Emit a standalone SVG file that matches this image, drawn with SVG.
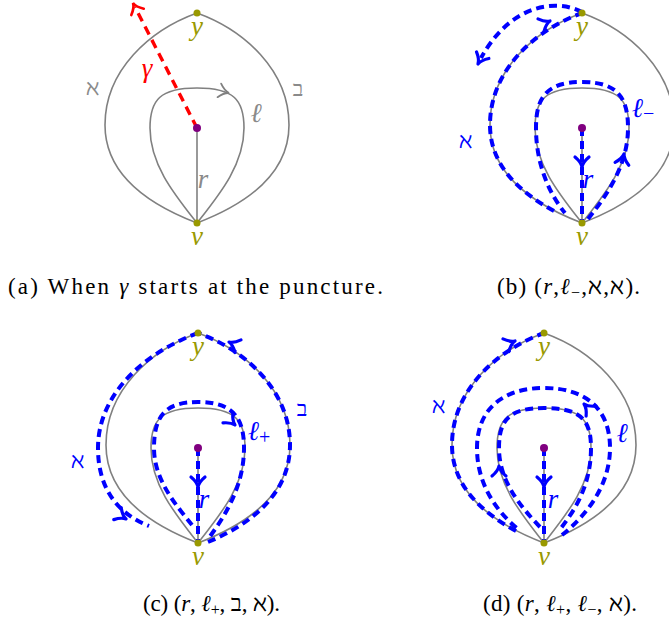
<svg xmlns="http://www.w3.org/2000/svg" xmlns:xlink="http://www.w3.org/1999/xlink" width="669" height="628" viewBox="0 0 669 628">
<style>
.g{fill:none;stroke:#808080;stroke-width:1.6}
.b{fill:none;stroke:#0000ff;stroke-width:4;stroke-dasharray:8 5}
.red{fill:none;stroke:#ff0000;stroke-width:3.4;stroke-dasharray:9 6}
.ba{fill:none;stroke:#0000ff;stroke-width:3.2;stroke-linecap:round;stroke-linejoin:round}
.m{font-family:'Liberation Serif',serif;font-style:italic;font-size:27px;text-anchor:middle}
.h{font-family:'DejaVu Serif',serif;font-size:22px;text-anchor:middle}
.ol{fill:#999900}
.gr{fill:#8a8a8a}
.bl{fill:#0000ff}
.cap{font-family:'Liberation Serif',serif;font-size:23px;fill:#000}
.hx{font-family:'DejaVu Serif',serif}
</style>
<defs>
<path id="outer" d="M197,223 C150,205 105,175 105,125 C105,70 150,30 197,13 C244,30 289,70 289,125 C289,175 244,205 197,223"/>
<path id="inner" d="M197,223 C175,195 150,165 150,128 C150,100 160,88 197,88 C234,88 244,100 244,128 C244,165 219,195 197,223"/>
<path id="arr" d="M-10,-7 Q-5,-1 0,0 Q-5,1 -10,7"/>
<g id="base">
<use xlink:href="#outer" class="g"/>
<use xlink:href="#inner" class="g"/>
<line x1="197" y1="128" x2="197" y2="223" class="g"/>
</g>
<g id="dots">
<circle cx="197" cy="13" r="3.5" class="ol"/>
<circle cx="197" cy="223" r="3.5" class="ol"/>
<circle cx="197" cy="128" r="4" fill="#800080"/>
<text x="197" y="35" class="m ol">y</text>
<text x="197" y="245" class="m ol">v</text>
</g>
</defs>

<!-- Panel (a) -->
<g id="panel-a">
<g id="a-connectors">
<use xlink:href="#base"/>
<use xlink:href="#arr" transform="translate(229,93) rotate(15)" fill="none" stroke="#808080" stroke-width="1.8" stroke-linecap="round"/>
<path d="M197,128 L135,7" class="red"/>
<use xlink:href="#arr" transform="translate(133,3) rotate(-117)" fill="none" stroke="#ff0000" stroke-width="2.6" stroke-linecap="round"/>
</g>
<g id="a-nodes"><use xlink:href="#dots"/></g>
<g id="a-labels">
<text x="203" y="188" class="m gr">r</text>
<text x="256" y="122" class="m gr">ℓ</text>
<text x="92" y="95" class="h gr">ℵ</text>
<text x="298" y="96" class="h gr" font-size="20">ב</text>
<text x="147" y="77" class="m" fill="#ff0000">γ</text>
</g>
</g>

<!-- Panel (b) -->
<g id="panel-b" transform="translate(385,0)">
<g id="b-connectors">
<use xlink:href="#base"/>
<line x1="197" y1="128" x2="197" y2="220" class="b"/>
<path d="M203,219 C222,195 243,165 243,128 C243,98 233,82 197,82 C161,82 151,98 151,128 C151,165 165,195 180,213" class="b"/>
<path d="M169,211 C134,192 105,165 105,125 C105,70 150,30 197,13" class="b"/>
<path d="M197,12 C170,-2 125,5 96,58" class="b"/>
<use xlink:href="#arr" class="ba" transform="translate(197,167) rotate(90)"/>
<use xlink:href="#arr" class="ba" transform="translate(239,154) rotate(-78)"/>
<use xlink:href="#arr" class="ba" transform="translate(165,21) rotate(-25)"/>
<use xlink:href="#arr" class="ba" transform="translate(93,64) rotate(118)"/>
</g>
<g id="b-nodes"><use xlink:href="#dots"/></g>
<g id="b-labels">
<text x="203" y="188" class="m bl">r</text>
<text x="258" y="117" class="m bl">ℓ<tspan dy="3" font-size="20" font-style="normal">−</tspan></text>
<text x="80" y="148" class="h bl">ℵ</text>
</g>
</g>

<!-- Panel (c) -->
<g id="panel-c" transform="translate(1,320)">
<g id="c-connectors">
<use xlink:href="#base"/>
<line x1="197" y1="128" x2="197" y2="220" class="b"/>
<path d="M191,205 C175,185 153,160 153,128 C153,95 165,82 197,82 C232,82 243,98 243,128 C243,165 225,195 207,219" class="b"/>
<path d="M207,222 C248,205 289,175 289,125 C289,70 244,30 197,13" class="b"/>
<path d="M197,13 C150,30 97,70 97,128 C97,172 120,195 148,206" class="b"/>
<use xlink:href="#arr" class="ba" transform="translate(197,167) rotate(90)"/>
<use xlink:href="#arr" class="ba" transform="translate(234,105) rotate(45)"/>
<use xlink:href="#arr" class="ba" transform="translate(228,22) rotate(-155)"/>
<use xlink:href="#arr" class="ba" transform="translate(125,199) rotate(32)"/>
</g>
<g id="c-nodes"><use xlink:href="#dots"/></g>
<g id="c-labels">
<text x="203" y="188" class="m bl">r</text>
<text x="258" y="120" class="m bl">ℓ<tspan dy="4" font-size="20" font-style="normal">+</tspan></text>
<text x="76" y="148" class="h bl">ℵ</text>
<text x="301" y="96" class="h bl" font-size="20">ב</text>
</g>
</g>

<!-- Panel (d) -->
<g id="panel-d" transform="translate(347,320)">
<g id="d-connectors">
<use xlink:href="#base"/>
<line x1="197" y1="128" x2="197" y2="220" class="b"/>
<path d="M193,207 C172,185 152,160 152,128 C152,100 162,88 197,88 C234,88 244,100 244,128 C244,165 228,190 214,208" class="b"/>
<path d="M215,215 C240,195 263,165 263,128 C263,90 240,68 197,68 C155,68 130,90 130,128 C130,165 150,192 172,210" class="b"/>
<path d="M169,211 C134,192 105,165 105,125 C105,70 150,30 197,13" class="b"/>
<use xlink:href="#arr" class="ba" transform="translate(197,167) rotate(90)"/>
<use xlink:href="#arr" class="ba" transform="translate(152,146) rotate(-90)"/>
<use xlink:href="#arr" class="ba" transform="translate(237,84) rotate(-135)"/>
<use xlink:href="#arr" class="ba" transform="translate(168,21) rotate(-25)"/>
</g>
<g id="d-nodes"><use xlink:href="#dots"/></g>
<g id="d-labels">
<text x="206" y="188" class="m bl">r</text>
<text x="275" y="122" class="m bl">ℓ</text>
<text x="91" y="93" class="h bl">ℵ</text>
</g>
</g>

<!-- Captions -->
<g id="captions">
<text x="8" y="294" class="cap" textLength="375" lengthAdjust="spacing">(a)  When <tspan font-style="italic">γ</tspan> starts at the puncture.</text>
<text x="497" y="294" class="cap" textLength="143" lengthAdjust="spacing">(b)  (<tspan font-style="italic">r</tspan>,<tspan font-style="italic">ℓ</tspan><tspan dy="4" font-size="16">−</tspan><tspan dy="-4">,</tspan><tspan class="hx">ℵ</tspan>,<tspan class="hx">ℵ</tspan>).</text>
<text x="143" y="611" class="cap" textLength="137" lengthAdjust="spacing">(c)  (<tspan font-style="italic">r</tspan>, <tspan font-style="italic">ℓ</tspan><tspan dy="4" font-size="16">+</tspan><tspan dy="-4">, </tspan><tspan class="hx">ב</tspan>, <tspan class="hx">ℵ</tspan>).</text>
<text x="483" y="611" class="cap" textLength="154" lengthAdjust="spacing">(d)  (<tspan font-style="italic">r</tspan>, <tspan font-style="italic">ℓ</tspan><tspan dy="4" font-size="16">+</tspan><tspan dy="-4">, </tspan><tspan font-style="italic">ℓ</tspan><tspan dy="4" font-size="16">−</tspan><tspan dy="-4">, </tspan><tspan class="hx">ℵ</tspan>).</text>
</g>
</svg>
